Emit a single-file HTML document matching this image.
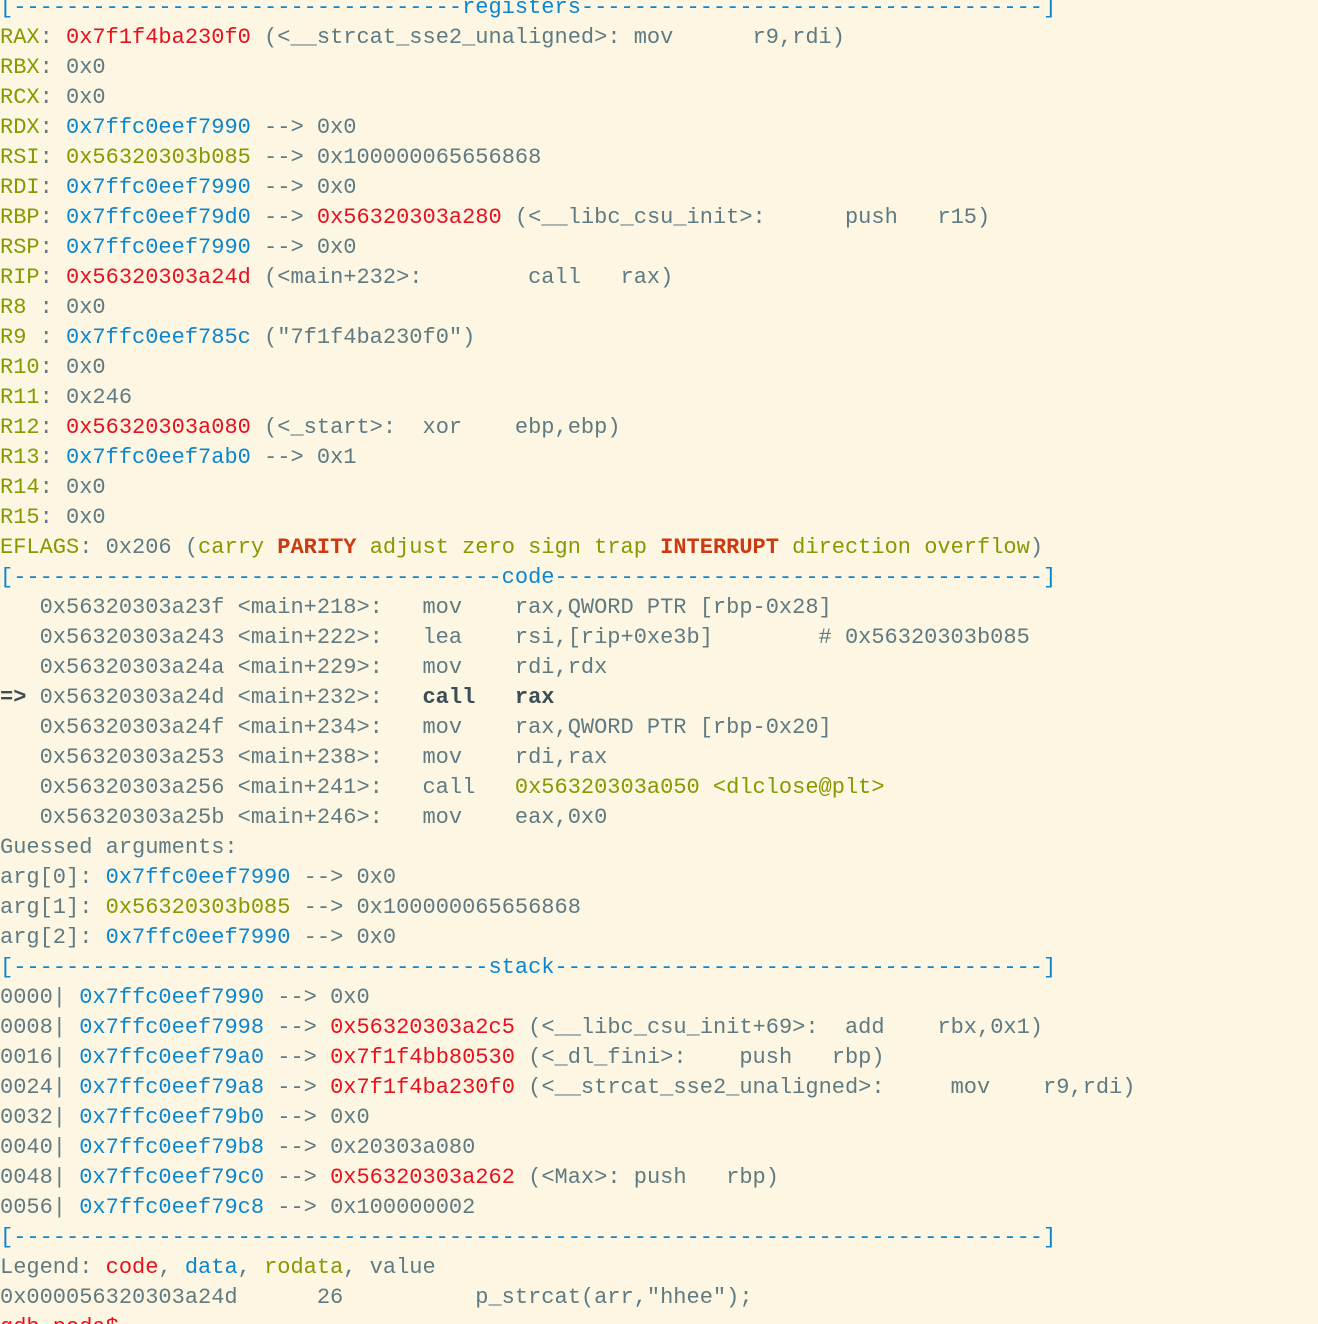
<!DOCTYPE html>
<html><head><meta charset="utf-8"><style>
html,body{margin:0;padding:0;background:#fdf6e3;width:1318px;height:1324px;overflow:hidden}
pre{margin:-7px 0 0 0;font-family:"Liberation Mono",monospace;font-size:22px;line-height:30px;color:#5f7a82;white-space:pre}
.g{color:#859900}.r{color:#e8101e}.b{color:#0a86d0}.o{color:#cb3a10;font-weight:bold}.k{color:#3c4e55;font-weight:bold}
</style></head><body><pre><span class="b">[----------------------------------registers-----------------------------------]</span>
<span class="g">RAX</span>: <span class="r">0x7f1f4ba230f0</span> (&lt;__strcat_sse2_unaligned&gt;: mov      r9,rdi)
<span class="g">RBX</span>: 0x0
<span class="g">RCX</span>: 0x0
<span class="g">RDX</span>: <span class="b">0x7ffc0eef7990</span> --&gt; 0x0
<span class="g">RSI</span>: <span class="g">0x56320303b085</span> --&gt; 0x100000065656868
<span class="g">RDI</span>: <span class="b">0x7ffc0eef7990</span> --&gt; 0x0
<span class="g">RBP</span>: <span class="b">0x7ffc0eef79d0</span> --&gt; <span class="r">0x56320303a280</span> (&lt;__libc_csu_init&gt;:      push   r15)
<span class="g">RSP</span>: <span class="b">0x7ffc0eef7990</span> --&gt; 0x0
<span class="g">RIP</span>: <span class="r">0x56320303a24d</span> (&lt;main+232&gt;:        call   rax)
<span class="g">R8</span> : 0x0
<span class="g">R9</span> : <span class="b">0x7ffc0eef785c</span> ("7f1f4ba230f0")
<span class="g">R10</span>: 0x0
<span class="g">R11</span>: 0x246
<span class="g">R12</span>: <span class="r">0x56320303a080</span> (&lt;_start&gt;:  xor    ebp,ebp)
<span class="g">R13</span>: <span class="b">0x7ffc0eef7ab0</span> --&gt; 0x1
<span class="g">R14</span>: 0x0
<span class="g">R15</span>: 0x0
<span class="g">EFLAGS</span>: 0x206 (<span class="g">carry</span> <span class="o">PARITY</span> <span class="g">adjust zero sign trap</span> <span class="o">INTERRUPT</span> <span class="g">direction overflow</span>)
<span class="b">[-------------------------------------code-------------------------------------]</span>
   0x56320303a23f &lt;main+218&gt;:   mov    rax,QWORD PTR [rbp-0x28]
   0x56320303a243 &lt;main+222&gt;:   lea    rsi,[rip+0xe3b]        # 0x56320303b085
   0x56320303a24a &lt;main+229&gt;:   mov    rdi,rdx
<span class="k">=&gt; </span>0x56320303a24d &lt;main+232&gt;:   <span class="k">call   rax</span>
   0x56320303a24f &lt;main+234&gt;:   mov    rax,QWORD PTR [rbp-0x20]
   0x56320303a253 &lt;main+238&gt;:   mov    rdi,rax
   0x56320303a256 &lt;main+241&gt;:   call   <span class="g">0x56320303a050 &lt;dlclose@plt&gt;</span>
   0x56320303a25b &lt;main+246&gt;:   mov    eax,0x0
Guessed arguments:
arg[0]: <span class="b">0x7ffc0eef7990</span> --&gt; 0x0
arg[1]: <span class="g">0x56320303b085</span> --&gt; 0x100000065656868
arg[2]: <span class="b">0x7ffc0eef7990</span> --&gt; 0x0
<span class="b">[------------------------------------stack-------------------------------------]</span>
0000| <span class="b">0x7ffc0eef7990</span> --&gt; 0x0
0008| <span class="b">0x7ffc0eef7998</span> --&gt; <span class="r">0x56320303a2c5</span> (&lt;__libc_csu_init+69&gt;:  add    rbx,0x1)
0016| <span class="b">0x7ffc0eef79a0</span> --&gt; <span class="r">0x7f1f4bb80530</span> (&lt;_dl_fini&gt;:    push   rbp)
0024| <span class="b">0x7ffc0eef79a8</span> --&gt; <span class="r">0x7f1f4ba230f0</span> (&lt;__strcat_sse2_unaligned&gt;:     mov    r9,rdi)
0032| <span class="b">0x7ffc0eef79b0</span> --&gt; 0x0
0040| <span class="b">0x7ffc0eef79b8</span> --&gt; 0x20303a080
0048| <span class="b">0x7ffc0eef79c0</span> --&gt; <span class="r">0x56320303a262</span> (&lt;Max&gt;: push   rbp)
0056| <span class="b">0x7ffc0eef79c8</span> --&gt; 0x100000002
<span class="b">[------------------------------------------------------------------------------]</span>
Legend: <span class="r">code</span>, <span class="b">data</span>, <span class="g">rodata</span>, value
0x000056320303a24d      26          p_strcat(arr,"hhee");
<span class="r">gdb-peda$</span>
</pre></body></html>
